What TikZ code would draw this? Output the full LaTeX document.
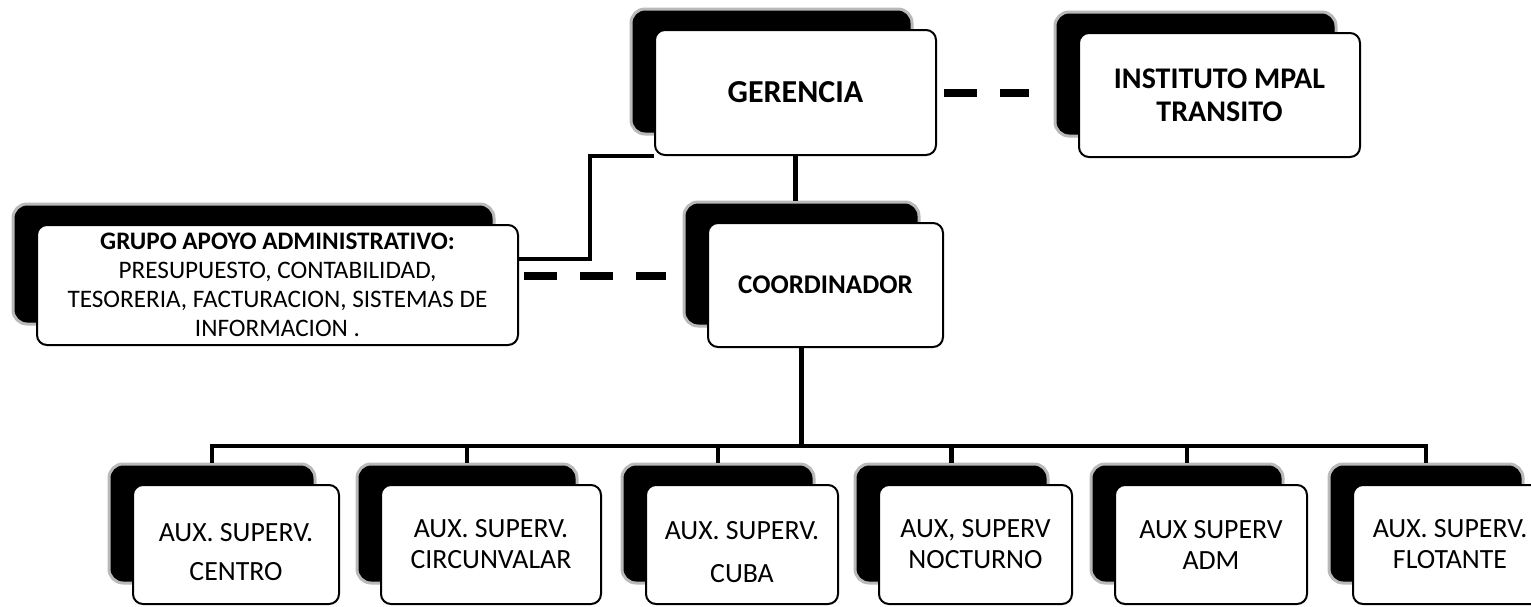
\documentclass[tikz,border=0pt]{standalone}
\usepackage{fontspec}
\setmainfont{Carlito}
\newcommand{\caja}[7][]{%
  \node[fondo,minimum width=#5*0.5pt,minimum height=#6*0.5pt] (#2-f) at (#3-24,#4-21) {};
  \node[frente,minimum width=#5*0.5pt,minimum height=#6*0.5pt,#1] (#2) at (#3,#4) {#7};}

\begin{document}
\begin{tikzpicture}[x=0.5pt,y=-0.5pt,
    fondo/.style={fill=black,draw=gray!55,line width=1.5pt,rounded corners=7pt},
    frente/.style={fill=white,draw=black,line width=1pt,rounded corners=5pt,align=center,inner sep=2pt},
    titulo/.style={font=\bfseries\fontsize{15}{16.5}\selectfont},
    texto/.style={font=\fontsize{13.9}{15.5}\selectfont},
    linea/.style={line width=2.4pt},
    raya/.style={line width=4pt,dash pattern=on 16.5pt off 11.5pt}]
  \useasboundingbox (0,0) rectangle (1531,606);
  \caja[font=\bfseries\fontsize{16}{17}\selectfont]{ger}{795.5}{92.5}{281}{125}{GERENCIA}
  \caja[titulo]{inst}{1219.5}{95}{281}{124}{INSTITUTO MPAL\\TRANSITO}
  \caja[font=\bfseries\fontsize{13.5}{15}\selectfont]{coord}{825.5}{285}{235}{124}{COORDINADOR}
  \caja[font=\fontsize{12.6}{14.5}\selectfont]{grupo}{277.5}{285}{481}{120}{\textbf{GRUPO APOYO ADMINISTRATIVO:}\\PRESUPUESTO, CONTABILIDAD,\\TESORERIA, FACTURACION, SISTEMAS DE\\INFORMACION .}
  \caja[texto]{centro}{236}{544.5}{206}{119}{\rule{0pt}{17pt}AUX. SUPERV.\\[4pt]CENTRO}
  \caja[texto]{circ}{491}{544.5}{220}{119}{AUX. SUPERV.\\CIRCUNVALAR}
  \caja[texto]{cuba}{742}{544.5}{192}{119}{\rule{0pt}{17pt}AUX. SUPERV.\\[6pt]CUBA}
  \caja[texto]{noct}{975.5}{544.5}{193}{119}{AUX, SUPERV\\NOCTURNO}
  \caja[texto]{adm}{1211}{544.5}{192}{119}{AUX SUPERV\\ADM}
  \caja[texto]{flot}{1450}{544.5}{194}{119}{AUX. SUPERV.\\FLOTANTE}
  \coordinate (codo) at (590,259);
  \coordinate (bus) at (0,446);
  \coordinate (g-raya) at ([yshift=4.5pt]grupo.east);
  \draw[linea] (ger.south) -- (ger.south |- coord-f.north);
  \draw[linea] (ger.south west) -| (codo) -- (codo -| grupo.east);
  \draw[raya,shorten <=2.5pt,shorten >=8.5pt] (g-raya) -- (g-raya -| coord-f.west);
  \draw[raya,shorten <=3.5pt,shorten >=12.5pt] (ger.east) -- (ger.east -| inst-f.west);
  \draw[linea] (coord.south -| coord-f.south) -- (bus -| coord-f.south);
  \draw[linea] (centro-f.north) |- (flot-f.north |- bus) -- (flot-f.north);
  \foreach \c in {circ,cuba,noct,adm}
    \draw[linea] (\c-f.north) -- (\c-f.north |- bus);
\end{tikzpicture}
\end{document}
